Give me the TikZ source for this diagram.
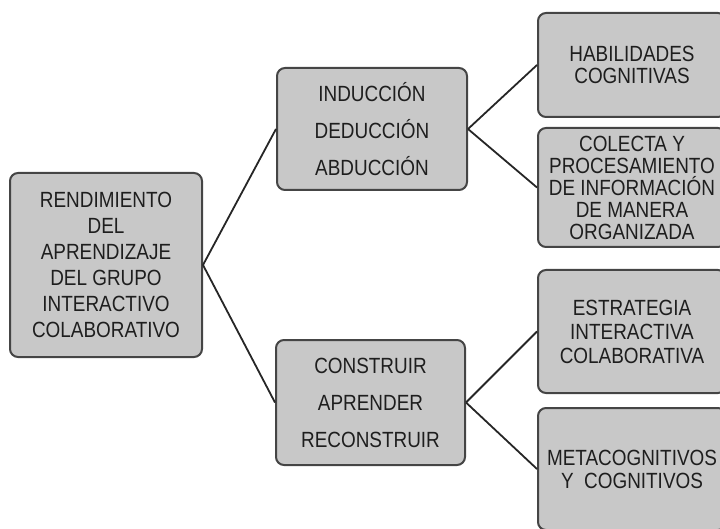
\documentclass[tikz,border=0pt]{standalone}
\usepackage{fontspec}
\setmainfont[FakeStretch=0.86]{Liberation Sans}
\usepackage{tikz}

\definecolor{boxfill}{HTML}{C8C8C8}
\definecolor{boxline}{HTML}{454545}
\definecolor{boxtext}{HTML}{1E1E1E}

\begin{document}
\begin{tikzpicture}[x=1pt,y=-1pt,
	mapbox/.style={draw=boxline, line width=2pt, fill=boxfill, rounded corners=8pt,
		inner sep=0pt, align=center, text=boxtext},
	spacing/.style={font=\fontsize{22}{#1}\selectfont},
	link/.style={draw=black!85, line width=1.8pt}]
	\useasboundingbox (0,0) rectangle (720,529);
	\clip (0,0) rectangle (720,529);
	\node [mapbox,spacing=26,minimum width=192pt,minimum height=184pt] (root) at (106,265)
		{RENDIMIENTO\\DEL\\APRENDIZAJE\\DEL GRUPO\\INTERACTIVO\\COLABORATIVO};
	\node [mapbox,spacing=37,minimum width=190pt,minimum height=122pt] (induccion) at (372,129)
		{INDUCCIÓN\\DEDUCCIÓN\\ABDUCCIÓN};
	\node [mapbox,spacing=37,minimum width=189pt,minimum height=125pt] (construir) at (370.5,402.5)
		{CONSTRUIR\\APRENDER\\RECONSTRUIR};
	\node [mapbox,spacing=22,minimum width=188pt,minimum height=104pt] (habilidades) at (632,65)
		{HABILIDADES\\COGNITIVAS};
	\node [mapbox,spacing=22,minimum width=188pt,minimum height=119pt] (colecta) at (632,187.5)
		{COLECTA Y\\PROCESAMIENTO\\DE INFORMACIÓN\\DE MANERA\\ORGANIZADA};
	\node [mapbox,spacing=24,minimum width=188pt,minimum height=123pt] (estrategia) at (632,331.5)
		{ESTRATEGIA\\INTERACTIVA\\COLABORATIVA};
	\node [mapbox,spacing=23,minimum width=188pt,minimum height=122pt] (meta) at (632,469)
		{METACOGNITIVOS\\Y\ \ COGNITIVOS};
	\draw [link] (root.east) -- (induccion.west);
	\draw [link] (root.east) -- (construir.west);
	\draw [link] (induccion.east) -- (habilidades.west);
	\draw [link] (induccion.east) -- (colecta.west);
	\draw [link] (construir.east) -- (estrategia.west);
	\draw [link] (construir.east) -- (meta.west);
\end{tikzpicture}
\end{document}
